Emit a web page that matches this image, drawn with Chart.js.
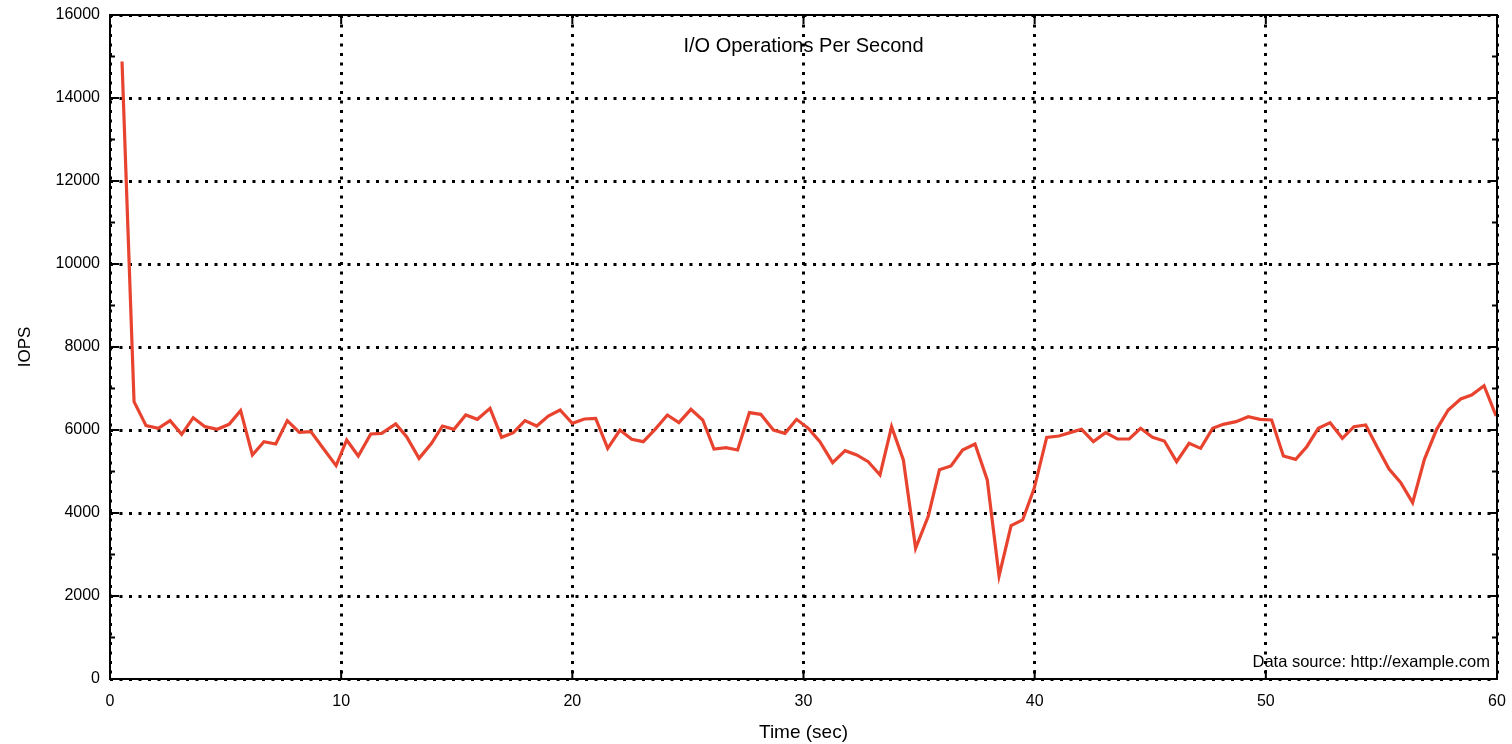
<!DOCTYPE html>
<html>
<head>
<meta charset="utf-8">
<title>I/O Operations Per Second</title>
<script src="https://cdn.jsdelivr.net/npm/chart.js@4/dist/chart.umd.min.js"></script>
<style>
    html, body { margin: 0; padding: 0; background: #fff; }
    #wrap { width: 1512px; height: 744px; }
</style>
</head>
<body>
<div id="wrap"><canvas id="iopsChart" width="1512" height="744"></canvas></div>
<script>
// sample times (sec)
var times = [
    0.52, 1.04, 1.56, 2.09, 2.60, 3.10, 3.60, 4.11, 4.64, 5.15,
    5.65, 6.16, 6.66, 7.17, 7.67, 8.19, 8.69, 9.22, 9.78, 10.24,
    10.74, 11.28, 11.75, 12.36, 12.83, 13.37, 13.91, 14.38, 14.88, 15.39,
    15.89, 16.44, 16.94, 17.45, 17.95, 18.46, 18.96, 19.47, 20.00, 20.52,
    21.01, 21.53, 22.06, 22.57, 23.07, 23.58, 24.11, 24.61, 25.13, 25.64,
    26.13, 26.65, 27.15, 27.66, 28.15, 28.70, 29.20, 29.70, 30.21, 30.71,
    31.26, 31.80, 32.30, 32.80, 33.31, 33.81, 34.32, 34.85, 35.40, 35.88,
    36.38, 36.88, 37.42, 37.95, 38.46, 38.98, 39.48, 39.98, 40.52, 41.05,
    41.53, 42.03, 42.54, 43.07, 43.58, 44.09, 44.58, 45.10, 45.61, 46.14,
    46.68, 47.18, 47.70, 48.16, 48.71, 49.24, 49.75, 50.25, 50.76, 51.29,
    51.77, 52.27, 52.78, 53.31, 53.81, 54.32, 54.82, 55.33, 55.83, 56.35,
    56.86, 57.39, 57.89, 58.43, 58.90, 59.44, 59.96
];

var iops = [
    14880, 6683, 6104, 6040, 6225, 5896, 6297, 6080, 6016, 6137,
    6466, 5398, 5719, 5663, 6225, 5944, 5960, 5560, 5141, 5759,
    5374, 5904, 5920, 6145, 5840, 5317, 5679, 6096, 6016, 6361,
    6257, 6522, 5823, 5936, 6225, 6096, 6337, 6482, 6160, 6265,
    6281, 5558, 6000, 5775, 5719, 6016, 6361, 6177, 6498, 6241,
    5542, 5574, 5518, 6418, 6377, 6000, 5920, 6257, 6040, 5719,
    5213, 5502, 5398, 5237, 4916, 6080, 5277, 3149, 3928, 5040,
    5133, 5518, 5663, 4796, 2483, 3695, 3832, 4595, 5823, 5855,
    5936, 6016, 5719, 5936, 5783, 5783, 6040, 5823, 5735, 5237,
    5679, 5558, 6040, 6137, 6201, 6321, 6257, 6241, 5374, 5293,
    5598, 6040, 6177, 5799, 6080, 6120, 5582, 5060, 4739, 4250,
    5293, 6016, 6482, 6747, 6843, 7068, 6337
];

var chartTitle = 'I/O Operations Per Second';
var sourceNote = 'Data source: http://example.com';

var points = [];
for (var i = 0; i < times.length; i++) {
    points.push({ x: times[i], y: iops[i] });
}

var fontFamily = '"Liberation Sans", Arial, Helvetica, sans-serif';

// frame, inward ticks and the texts that sit inside the plot
const framePlugin = {
    id: 'frame',
    afterDraw(chart) {
        const ctx = chart.ctx;
        const area = chart.chartArea;
        const xs = chart.scales.x;
        const ys = chart.scales.y;

        ctx.save();
        ctx.strokeStyle = '#000';
        ctx.lineWidth = 2;
        ctx.strokeRect(area.left, area.top, area.right - area.left, area.bottom - area.top);

        ctx.beginPath();
        for (var v = 0; v <= 16000; v += 1000) {
            var y = ys.getPixelForValue(v);
            var len = (v % 2000 == 0) ? 9 : 5;
            ctx.moveTo(area.left, y);
            ctx.lineTo(area.left + len, y);
            ctx.moveTo(area.right, y);
            ctx.lineTo(area.right - len, y);
        }
        for (var t = 0; t <= 60; t += 10) {
            var x = xs.getPixelForValue(t);
            ctx.moveTo(x, area.bottom);
            ctx.lineTo(x, area.bottom - 9);
            ctx.moveTo(x, area.top);
            ctx.lineTo(x, area.top + 9);
        }
        ctx.stroke();

        ctx.fillStyle = '#000';
        ctx.font = '20px ' + fontFamily;
        ctx.textAlign = 'center';
        ctx.textBaseline = 'middle';
        ctx.fillText(chartTitle, (area.left + area.right) / 2, area.top + 31);

        ctx.font = '16.5px ' + fontFamily;
        ctx.textAlign = 'right';
        ctx.fillText(sourceNote, area.right - 7, area.bottom - 17);
        ctx.restore();
    }
};

const ctx = document.getElementById('iopsChart').getContext('2d');
const mainChart = new Chart(ctx, {
    type: 'line',
    data: {
        datasets: [{
            label: 'IOPS',
            data: points,
            borderColor: '#e8432f',
            borderWidth: 3.2,
            pointRadius: 0,
            tension: 0,
            fill: false
        }]
    },
    options: {
        responsive: false,
        animation: false,
        events: [],
        layout: {
            autoPadding: false,
            padding: { top: 15, right: 15, left: 0, bottom: 0 }
        },
        plugins: {
            legend: { display: false },
            title: { display: false },
            tooltip: { enabled: false }
        },
        scales: {
            x: {
                type: 'linear',
                min: 0,
                max: 60,
                afterFit: function (scale) {
                    scale.height = 65;
                    scale.paddingLeft = 0;
                    scale.paddingRight = 0;
                },
                ticks: {
                    stepSize: 10,
                    padding: 13,
                    color: '#000',
                    font: { family: fontFamily, size: 16 },
                    callback: function (value) { return String(value); }
                },
                grid: {
                    color: '#000',
                    lineWidth: 3,
                    drawTicks: false
                },
                border: { display: false, dash: [3, 6.5] },
                title: {
                    display: true,
                    text: 'Time (sec)',
                    color: '#000',
                    font: { family: fontFamily, size: 19 },
                    padding: { top: 0, bottom: 0 }
                }
            },
            y: {
                min: 0,
                max: 16000,
                afterFit: function (scale) {
                    scale.width = 110;
                    scale.paddingTop = 0;
                    scale.paddingBottom = 0;
                },
                ticks: {
                    stepSize: 2000,
                    padding: 10,
                    color: '#000',
                    font: { family: fontFamily, size: 16 },
                    callback: function (value) { return String(value); }
                },
                grid: {
                    color: '#000',
                    lineWidth: 3,
                    drawTicks: false
                },
                border: { display: false, dash: [3, 6.5] },
                title: {
                    display: true,
                    text: 'IOPS',
                    color: '#000',
                    font: { family: fontFamily, size: 17 },
                    padding: { top: 15, bottom: 0 }
                }
            }
        }
    },
    plugins: [framePlugin]
});
</script>
</body>
</html>
